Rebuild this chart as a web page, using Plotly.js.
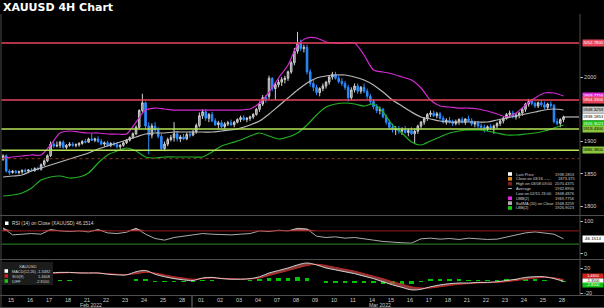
<!DOCTYPE html>
<html><head><meta charset="utf-8">
<script src="https://cdn.plot.ly/plotly-3.0.1.min.js"></script>
<style>html,body{margin:0;padding:0;background:#000;overflow:hidden}#chart{width:604px;height:308px}</style>
</head><body><div id="chart"></div>
<script>
// ---- data ----
const dayLabels = ['15','16','17','18','21','22','23','24','25','28','01','02','03','04','07','08','09','10','11','14','15','16','17','18','21','22','23','24','25','28'];
const openP = [1872,1878,1854,1852,1854,1852, 1853,1855,1854,1856,1855,1858, 1857,1864,1870,1878,1896,1893, 1894,1899,1891,1894,1896,1894, 1895,1897,1900,1899,1904,1902, 1904,1900,1896,1898,1894,1897, 1895,1892,1894,1898,1902,1906, 1912,1922,1948,1960,1924,1910, 1924,1918,1908,1889,1896,1903, 1906,1912,1904,1907,1904,1911, 1910,1915,1925,1940,1946,1936, 1942,1932,1926,1929,1923,1927, 1929,1926,1930,1934,1937,1934, 1936,1938,1942,1950,1958,1968, 1970,1998,1982,1988,1992,1996, 1998,2008,2022,2040,2052,2044, 2046,2008,1990,1984,1976,1982, 1986,1992,2000,2004,1998,1993, 1990,1984,1968,1980,1986,1978, 1984,1978,1970,1962,1954,1948, 1950,1938,1930,1922,1918,1920, 1916,1918,1914,1917,1912,1916, 1924,1930,1936,1942,1944,1940, 1943,1936,1930,1933,1930,1928, 1931,1934,1930,1935,1932,1927, 1929,1924,1922,1920,1923,1921, 1924,1928,1932,1936,1942,1944, 1938,1941,1944,1950,1958,1962, 1959,1955,1960,1957,1953,1958, 1956,1931,1928,1934];
const highP = [1880,1880,1857,1856,1856,1855, 1857,1858,1857,1859,1860,1861, 1866,1872,1880,1900,1902,1900, 1901,1902,1896,1899,1899,1897, 1899,1902,1904,1906,1913,1906, 1908,1904,1900,1901,1899,1900, 1899,1896,1900,1904,1908,1914, 1925,1950,1974,1962,1930,1928, 1930,1922,1912,1900,1906,1910, 1930,1916,1910,1912,1914,1916, 1918,1928,1945,1950,1950,1944, 1946,1936,1932,1933,1930,1932, 1934,1932,1936,1940,1941,1938, 1940,1944,1952,1962,1972,1972, 2002,2000,1992,1996,2000,2002, 2010,2025,2045,2070,2058,2050, 2050,2012,1996,1988,1984,1990, 1994,2002,2008,2008,2002,1998, 1994,1988,1984,1990,1990,1986, 1990,1982,1974,1966,1958,1954, 1952,1942,1934,1928,1924,1924, 1922,1924,1920,1922,1920,1926, 1932,1938,1944,1948,1948,1946, 1946,1940,1936,1938,1934,1934, 1936,1938,1936,1940,1936,1932, 1932,1928,1926,1925,1927,1926, 1930,1934,1938,1944,1948,1948, 1944,1946,1952,1960,1966,1966, 1962,1962,1964,1962,1960,1962, 1958,1936,1936,1940];
const lowP = [1870,1852,1848,1850,1850,1849, 1850,1852,1851,1853,1853,1855, 1855,1862,1868,1876,1890,1891, 1890,1889,1888,1892,1892,1891, 1892,1895,1897,1898,1901,1899, 1898,1894,1892,1892,1891,1893, 1889,1888,1892,1896,1900,1904, 1910,1920,1945,1920,1880,1905, 1915,1905,1886,1885,1893,1900, 1900,1900,1899,1902,1902,1906, 1908,1912,1922,1935,1932,1930, 1930,1924,1920,1921,1920,1924, 1924,1922,1928,1930,1932,1930, 1932,1935,1940,1946,1955,1960, 1966,1978,1965,1984,1986,1990, 1994,2005,2018,2036,2040,2038, 2004,1985,1978,1972,1970,1978, 1982,1988,1996,1996,1990,1986, 1980,1962,1964,1976,1974,1974, 1975,1966,1958,1950,1944,1942, 1936,1926,1918,1914,1910,1912, 1910,1912,1908,1910,1896,1912, 1920,1926,1932,1938,1938,1936, 1934,1928,1926,1928,1924,1925, 1926,1928,1926,1930,1924,1922, 1920,1918,1914,1916,1918,1912, 1920,1924,1928,1934,1938,1936, 1934,1936,1940,1946,1954,1956, 1952,1952,1954,1950,1950,1952, 1928,1925,1922,1930];
const closeP = [1878,1854,1852,1854,1852,1853, 1855,1854,1856,1855,1858,1857, 1864,1870,1878,1896,1893,1894, 1899,1891,1894,1896,1894,1895, 1897,1900,1899,1904,1902,1904, 1900,1896,1898,1894,1897,1895, 1892,1894,1898,1902,1906,1912, 1922,1948,1960,1924,1910,1924, 1918,1908,1889,1896,1903,1906, 1912,1904,1907,1904,1911,1910, 1915,1925,1940,1946,1936,1942, 1932,1926,1929,1923,1927,1929, 1926,1930,1934,1937,1934,1936, 1938,1942,1950,1958,1968,1966, 1998,1982,1988,1992,1996,1998, 2008,2022,2040,2052,2044,2046, 2008,1990,1984,1976,1982,1986, 1992,2000,2004,1998,1993,1990, 1984,1968,1980,1986,1978,1984, 1978,1970,1962,1954,1948,1950, 1938,1930,1922,1918,1920,1916, 1918,1914,1917,1912,1916,1924, 1930,1936,1942,1944,1940,1943, 1936,1930,1933,1930,1928,1931, 1934,1930,1935,1932,1927,1929, 1924,1922,1920,1923,1921,1924, 1928,1932,1936,1942,1944,1938, 1941,1944,1950,1958,1962,1959, 1955,1960,1957,1953,1958,1956, 1931,1928,1934,1938];
// Bollinger bands, one value every 3 bars
const upperBB = [1874.4,1876.0,1877.5,1879.1,1879.1,1894.6,1913.2,1916.3,1914.7,1913.2,1913.2,1911.6,1911.6,1911.6,1930.2,1948.8,1951.9,1950.4,1948.8,1948.8,1948.8,1948.8,1948.8,1948.8,1948.8,1948.8,1950.4,1959.7,1976.7,1998.4,2018.6,2049.6,2060.5,2060.5,2054.3,2052.7,2052.7,2052.7,2034.1,2010.9,2007.8,2004.7,2000.0,1995.3,1982.9,1964.3,1955.0,1953.5,1951.9,1951.9,1950.4,1947.3,1942.6,1938.0,1944.2,1956.6,1967.4,1975.2,1975.2,1970.5];
const midBB = [1845.0,1846.5,1848.1,1854.3,1858.9,1863.6,1868.2,1872.9,1877.5,1882.2,1888.4,1893.0,1897.7,1902.3,1907.0,1911.6,1913.2,1913.2,1914.7,1914.7,1914.7,1914.7,1914.7,1916.3,1917.8,1920.9,1925.6,1931.8,1942.6,1955.0,1967.4,1979.8,1990.7,1998.4,2001.6,2003.1,2003.1,2000.0,1995.3,1987.6,1976.7,1964.3,1955.0,1945.7,1938.0,1934.9,1931.8,1930.2,1930.2,1930.2,1930.2,1930.2,1933.3,1936.4,1939.5,1942.6,1945.7,1948.8,1950.4,1948.8];
const lowerBB = [1815.5,1817.1,1820.2,1827.9,1840.3,1845.0,1846.5,1843.4,1845.0,1851.2,1866.7,1879.1,1885.3,1889.9,1885.3,1876.0,1874.4,1876.0,1876.0,1876.0,1876.0,1876.0,1883.7,1893.0,1897.7,1902.3,1908.5,1913.2,1908.5,1903.9,1907.0,1913.2,1925.6,1941.1,1953.5,1958.1,1959.7,1958.1,1955.0,1958.1,1945.7,1925.6,1913.2,1899.2,1894.6,1900.8,1907.0,1913.2,1916.3,1917.8,1917.8,1916.3,1913.2,1910.1,1910.1,1911.6,1913.2,1916.3,1920.9,1925.6];
// RSI(14) and MACD, one value every 3 bars
const rsiVals = [79,58,60,62,60,74,70,68,70,67,74,64,62,66,78,60,47,42,50,54,56,62,60,58,58,60,62,70,68,72,70,78,76,54,50,52,48,50,47,42,38,35,34,33,46,48,45,47,44,48,46,44,45,52,58,64,67,63,60,46.15];
const macdVals = [14,12,10,9,9,12,13,13,12,12,12,10,9,9,14,16,10,6,3,1,0,4,5,3,2,2,3,6,12,16,20,25,28,25,20,17,14,11,7,3,-2,-7,-11,-15,-14,-10,-7,-5,-4,-4,-3,-3,-2,0,2,5,6,6,3,-1.35];
const signalVals = [13,12.5,12,11,10,11,12,12.5,12.5,12,12,11,10,9.5,11,13,12,9,6,4,2,3,4,3.5,3,2.5,2.5,4,8,12,16,20,24,26,24,21,18,15,11,7,3,-2,-6,-10,-12,-12,-10,-8,-6,-5,-4,-3.5,-3,-2,0,2,4,5,4.5,1.46];
const histVals = [1,-0.5,-2,-2,-1,1,1,0.5,-0.5,0,0,-1,-1,-0.5,3,3,-2,-3,-3,-3,-2,1,1,-0.5,-1,-0.5,0.5,2,4,4,4,5,4,-1,-4,-4,-4,-4,-4,-4,-5,-5,-5,-5,-2,2,3,3,2,1,1,0.5,1,2,2,3,2,1,-1.5,-2.81];
// reference levels and value tags
const redLevels = [2052.78, 1964.33];
const greenLevels = [1919.43, 1886.38];
const refCloseLevel = 1873.375;
const priceTicks = [1800, 1850, 1900, 2000];
const tagValues = [2052.78, 1969.7756, 1964.33, 1948.3259, 1938.1853, 1926.9023, 1919.43, 1886.38];
const tagBg = ['#e8445c','#e028e0','#e8445c','#c8c8c8','#ffffff','#14c414','#8cc63f','#8cc63f'];
const tagFg = ['#ffffff','#ffffff','#ffffff','#000000','#000000','#ffffff','#000000','#000000'];
const legendLabels = ['Last Price','Close on 03/16 -----','High on 03/08 03:00','Average','Low on 02/15 23:00','UBB(2)','BollMA (20) on Close','LBB(2)'];
const legendValues = ['1938.1853','1873.375','2070.4375','1932.8956','1848.4876','1969.7756','1948.3259','1926.9023'];
const legendSwatch = ['#ffffff','#d98a1a','#7a2020','line',null,'#e028e0','#b8a8b8','#14d014'];
const rsiLast = 46.1514;
const macdLegend = [['MACD(12,26)','-1.3492','#ffffff'],['SIG(9)','1.4608','#d02020'],['DIFF','-2.8100','#14c414']];

// ---- drawing ----
const W = 604, H = 308;
const X = p => p / W, Y = p => 1 - p / H;
const xDom = [X(1.5), X(579)];
const bars = closeP.map((_, i) => i);
const stepX = rsiVals.map((_, j) => 3 * j);
const dayTicks = dayLabels.map((_, i) => 6 * i + 2.5);

const traces = [];
traces.push({type:'candlestick', x:bars, open:openP, high:highP, low:lowP, close:closeP, xaxis:'x', yaxis:'y',
  increasing:{line:{color:'#d0d0d0', width:1}, fillcolor:'#7a7a7a'},
  decreasing:{line:{color:'#2b8cff', width:1}, fillcolor:'#2b8cff'},
  whiskerwidth:0, hoverinfo:'skip', showlegend:false});
[[upperBB,'#d42ad4'],[midBB,'#b8b8b8'],[lowerBB,'#22b022']].forEach(([v,c]) =>
  traces.push({type:'scatter', mode:'lines', x:stepX, y:v, yaxis:'y', line:{color:c, width:1.2, shape:'spline', smoothing:0.8}, hoverinfo:'skip', showlegend:false}));
// RSI
traces.push({type:'scatter', mode:'lines', x:stepX, y:stepX.map(() => 70), yaxis:'y2', line:{width:0}, hoverinfo:'skip', showlegend:false});
traces.push({type:'scatter', mode:'lines', x:stepX, y:rsiVals.map(v => Math.max(v, 70)), yaxis:'y2', fill:'tonexty', fillcolor:'rgba(200,120,120,0.85)', line:{width:0}, hoverinfo:'skip', showlegend:false});
traces.push({type:'scatter', mode:'lines', x:stepX, y:rsiVals, yaxis:'y2', line:{color:'#d6d6d6', width:0.8}, hoverinfo:'skip', showlegend:false});
// MACD
traces.push({type:'bar', x:stepX, y:histVals, yaxis:'y3', width:1.4, marker:{color:'#00c400', line:{width:0}}, hoverinfo:'skip', showlegend:false});
traces.push({type:'scatter', mode:'lines', x:stepX, y:signalVals, yaxis:'y3', line:{color:'#c02828', width:1, shape:'spline'}, hoverinfo:'skip', showlegend:false});
traces.push({type:'scatter', mode:'lines', x:stepX, y:macdVals, yaxis:'y3', fill:'tonexty', fillcolor:'rgba(180,80,80,0.75)', line:{color:'#e0e0e0', width:0.9, shape:'spline'}, hoverinfo:'skip', showlegend:false});

const grey = '#4d4d4d';
const shapes = [];
[215.5, 259.5, 295.5, 307.5].forEach(p => shapes.push({type:'line', xref:'paper', yref:'paper', x0:0, x1:1, y0:Y(p), y1:Y(p), line:{color:grey, width:1}}));
shapes.push({type:'line', xref:'paper', yref:'paper', x0:X(1), x1:X(1), y0:Y(14), y1:Y(308), line:{color:grey, width:1}});
shapes.push({type:'line', xref:'paper', yref:'paper', x0:X(580), x1:X(580), y0:Y(14), y1:Y(295.5), line:{color:grey, width:1}});
shapes.push({type:'line', xref:'paper', yref:'paper', x0:X(192), x1:X(192), y0:Y(295.5), y1:Y(307.5), line:{color:'#777', width:1}});
redLevels.forEach(v => shapes.push({type:'line', xref:'paper', yref:'y', x0:xDom[0], x1:xDom[1], y0:v, y1:v, line:{color:'#e8445c', width:1.6}}));
greenLevels.forEach(v => shapes.push({type:'line', xref:'paper', yref:'y', x0:xDom[0], x1:xDom[1], y0:v, y1:v, line:{color:'#b5e35a', width:1.6}}));
shapes.push({type:'line', xref:'paper', yref:'y', x0:xDom[0], x1:xDom[1], y0:refCloseLevel, y1:refCloseLevel, line:{color:'#8a3a1a', width:1, dash:'dot'}});
shapes.push({type:'line', xref:'x', yref:'y', x0:bars.length - 1, x1:181.9, y0:closeP[closeP.length-1], y1:closeP[closeP.length-1], line:{color:'#dddddd', width:1}});
shapes.push({type:'line', xref:'paper', yref:'y2', x0:xDom[0], x1:xDom[1], y0:70, y1:70, line:{color:'#9b1b1b', width:1}});
shapes.push({type:'line', xref:'paper', yref:'y2', x0:xDom[0], x1:xDom[1], y0:30, y1:30, line:{color:'#2e8b2e', width:1}});
// MACD legend box
shapes.push({type:'rect', xref:'paper', yref:'paper', x0:X(2), x1:X(53), y0:Y(285), y1:Y(262), fillcolor:'#1c1c1c', line:{width:0}});

const ann = [];
const txt = (x, y, t, o) => Object.assign({xref:'paper', yref:'paper', x:X(x), y:Y(y), text:t, showarrow:false, xanchor:'left', yanchor:'middle', font:{size:4.2, color:'#d0d0d0'}}, o || {});
ann.push(txt(1, 7.5, '<b>XAUUSD 4H Chart</b>', {font:{family:'DejaVu Sans, sans-serif', size:11, color:'#ffffff'}}));
ann.push(txt(91, 305, 'Feb 2022', {xanchor:'center', font:{size:5.2, color:'#c8c8c8'}}));
ann.push(txt(380, 305, 'Mar 2022', {xanchor:'center', font:{size:5.2, color:'#c8c8c8'}}));
// price tags
tagValues.forEach((v, i) => ann.push({xref:'paper', yref:'y', x:X(581.5), y:v, xanchor:'left', yanchor:'middle', showarrow:false,
  text:v.toFixed(4), bgcolor:tagBg[i], borderpad:0.3, width:20, font:{size:4.4, color:tagFg[i]}}));
// main legend
legendLabels.forEach((l, i) => {
  const yy = 174 + 4.85 * i;
  const sw = legendSwatch[i];
  if (sw === 'line') shapes.push({type:'line', xref:'paper', yref:'paper', x0:X(508), x1:X(512), y0:Y(yy), y1:Y(yy), line:{color:'#aaaaaa', width:1}});
  else if (sw) shapes.push({type:'rect', xref:'paper', yref:'paper', x0:X(508), x1:X(512), y0:Y(yy+1.8), y1:Y(yy-1.8), fillcolor:sw, line:{width:0}});
  ann.push(txt(513.5, yy, l, {font:{size:4, color:'#d0d0d0'}}));
  ann.push(txt(577, yy, legendValues[i], {xanchor:'right', font:{size:4, color:'#d0d0d0'}}));
});
// RSI legend + tag
shapes.push({type:'rect', xref:'paper', yref:'paper', x0:X(5), x1:X(8.5), y0:Y(225), y1:Y(221.5), fillcolor:'#ffffff', line:{width:0}});
ann.push(txt(10, 223.3, 'RSI (14) on Close (XAUUSD) ' + rsiLast.toFixed(4), {font:{size:4.8, color:'#d8d8d8'}}));
ann.push({xref:'paper', yref:'y2', x:X(581.5), y:rsiLast, xanchor:'left', yanchor:'middle', showarrow:false, text:rsiLast.toFixed(4), bgcolor:'#ffffff', borderpad:0.3, width:20, font:{size:4.4, color:'#000'}});
// MACD legend + tags
ann.push(txt(27, 266.5, 'XAUUSD', {xanchor:'center'}));
macdLegend.forEach(([l, v, c], i) => {
  const yy = 271 + 5 * i;
  shapes.push({type:'rect', xref:'paper', yref:'paper', x0:X(4.5), x1:X(8), y0:Y(yy+1.8), y1:Y(yy-1.8), fillcolor:c, line:{width:0}});
  ann.push(txt(9.5, yy, l, {font:{size:3.9, color:'#d0d0d0'}}));
  ann.push(txt(52, yy, v, {xanchor:'right', font:{size:3.9, color:'#d0d0d0'}}));
});
[[signalVals, '#d02020', '#ffffff', 3.2], [macdVals, '#ffffff', '#000000', 0], [histVals, '#14c414', '#ffffff', -3.2]].forEach(([arr, bg, fg, sh]) => {
  const v = arr[arr.length - 1];
  ann.push({xref:'paper', yref:'y3', x:X(581.5), y:v, yshift:sh, xanchor:'left', yanchor:'middle', showarrow:false, text:v.toFixed(4), bgcolor:bg, borderpad:0, width:20, height:4, font:{size:3.8, color:fg}});
});

const axisFont = {size:5.5, color:'#cfcfcf'};
const layout = {
  width:W, height:H, margin:{l:0, r:0, t:0, b:0},
  paper_bgcolor:'#000000', plot_bgcolor:'#000000', showlegend:false,
  font:{family:'Liberation Sans, Arial, sans-serif', size:6, color:'#cfcfcf'},
  bargap:0,
  xaxis:{domain:xDom, range:[-0.5, 181.9], anchor:'y3', rangeslider:{visible:false}, tickmode:'array', tickvals:dayTicks, ticktext:dayLabels,
    ticks:'', tickfont:axisFont, showgrid:false, zeroline:false, showline:false, fixedrange:true},
  yaxis:{domain:[Y(215), Y(14)], range:[1786.05, 2097.68], anchor:'x', side:'right', tickmode:'array', tickvals:priceTicks, ticktext:priceTicks.map(String),
    ticks:'outside', ticklen:3, tickcolor:'#bbbbbb', tickfont:axisFont, showgrid:false, zeroline:false, showline:false},
  yaxis2:{domain:[Y(259), Y(216)], range:[-15.2, 115.2], anchor:'x', side:'right', tickmode:'array', tickvals:[0, 100], ticktext:['0','100'],
    ticks:'outside', ticklen:3, tickcolor:'#bbbbbb', tickfont:axisFont, showgrid:false, zeroline:false, showline:false},
  yaxis3:{domain:[Y(295), Y(260)], range:[-23.2, 32.8], anchor:'x', side:'right', tickmode:'array', tickvals:[-20, 20], ticktext:['-20','20'],
    ticks:'outside', ticklen:3, tickcolor:'#bbbbbb', tickfont:axisFont, showgrid:false, zeroline:false, showline:false},
  shapes:shapes, annotations:ann
};
Plotly.newPlot('chart', traces, layout, {staticPlot:true, displayModeBar:false});
</script>
</body></html>
